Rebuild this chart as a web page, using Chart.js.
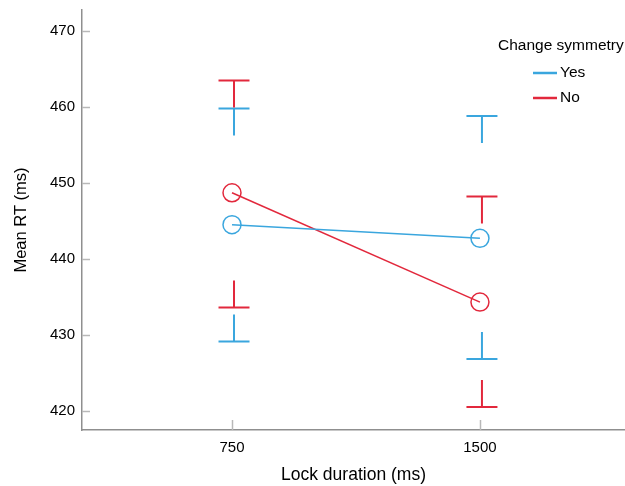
<!DOCTYPE html>
<html>
<head>
<meta charset="utf-8">
<script src="https://cdn.jsdelivr.net/npm/chart.js@4/dist/chart.umd.min.js"></script>
<style>
html,body{margin:0;padding:0;background:#fff;}
#wrap{width:625px;height:486px;}
</style>
</head>
<body>
<div id="wrap"><canvas id="c" width="625" height="486"></canvas></div>
<script>
const categories = ['750', '1500'];
const seriesNames = ['Yes', 'No'];
const yesMean = [444.5, 442.7];
const yesUpper = [459.8, 458.8];
const yesLower = [429.1, 426.8];
const noMean = [448.7, 434.3];
const noUpper = [463.5, 448.2];
const noLower = [433.6, 420.5];
const yTicks = [420, 430, 440, 450, 460, 470];

const BLUE = '#3aa6de';
const RED = '#e2283c';
const FONT = "'Liberation Sans', Arial, sans-serif";

function pts(arr) { return arr.map((v, i) => ({x: i + 1, y: v})); }

const errorBars = [
  {color: BLUE, upper: yesUpper, lower: yesLower},
  {color: RED, upper: noUpper, lower: noLower}
];

function zeroPad(s) { s.paddingTop = 0; s.paddingBottom = 0; s.paddingLeft = 0; s.paddingRight = 0; }

const extrasPlugin = {
  id: 'extras',
  beforeDatasetsDraw(chart) {
    const ctx = chart.ctx;
    const xs = chart.scales.x, ys = chart.scales.y;
    ctx.save();
    ctx.strokeStyle = '#b8b8b8';
    ctx.lineWidth = 1.5;
    yTicks.forEach(v => {
      const y = Math.round(ys.getPixelForValue(v)) + 0.5;
      ctx.beginPath(); ctx.moveTo(xs.left, y); ctx.lineTo(xs.left + 8, y); ctx.stroke();
    });
    categories.forEach((c, i) => {
      const x = Math.round(xs.getPixelForValue(i + 1)) + 0.5;
      ctx.beginPath(); ctx.moveTo(x, ys.bottom); ctx.lineTo(x, ys.bottom - 10); ctx.stroke();
    });
    ctx.restore();
  },
  afterDatasetsDraw(chart) {
    const ctx = chart.ctx;
    const xs = chart.scales.x, ys = chart.scales.y;
    ctx.save();
    ctx.lineWidth = 2;
    errorBars.forEach(eb => {
      ctx.strokeStyle = eb.color;
      categories.forEach((c, i) => {
        const x = xs.getPixelForValue(i + 1) + 2;
        const yu = ys.getPixelForValue(eb.upper[i]);
        const yl = ys.getPixelForValue(eb.lower[i]);
        ctx.beginPath();
        ctx.moveTo(x - 15.5, yu); ctx.lineTo(x + 15.5, yu);
        ctx.moveTo(x, yu); ctx.lineTo(x, yu + 27);
        ctx.moveTo(x - 15.5, yl); ctx.lineTo(x + 15.5, yl);
        ctx.moveTo(x, yl); ctx.lineTo(x, yl - 27);
        ctx.stroke();
      });
    });
    // legend
    ctx.fillStyle = '#000';
    ctx.font = '15.5px ' + FONT;
    ctx.textBaseline = 'middle';
    ctx.textAlign = 'left';
    ctx.fillText('Change symmetry', 498, 46);
    const ly = [73, 98];
    chart.data.datasets.forEach((ds, k) => {
      ctx.strokeStyle = ds.borderColor;
      ctx.lineWidth = 2.5;
      ctx.beginPath(); ctx.moveTo(533, ly[k]); ctx.lineTo(557, ly[k]); ctx.stroke();
      ctx.fillText(ds.label, 560, ly[k]);
    });
    ctx.restore();
  }
};

new Chart(document.getElementById('c'), {
  type: 'line',
  data: {
    datasets: [
      {label: seriesNames[0], data: pts(yesMean), borderColor: BLUE, borderWidth: 1.5,
       pointRadius: 9, pointBorderWidth: 1.5, pointBackgroundColor: 'rgba(0,0,0,0)', pointBorderColor: BLUE, pointHoverRadius: 9},
      {label: seriesNames[1], data: pts(noMean), borderColor: RED, borderWidth: 1.5,
       pointRadius: 9, pointBorderWidth: 1.5, pointBackgroundColor: 'rgba(0,0,0,0)', pointBorderColor: RED, pointHoverRadius: 9}
    ]
  },
  options: {
    responsive: false,
    animation: false,
    events: [],
    layout: {autoPadding: false, padding: {top: 10, right: 0, left: 0, bottom: 0}},
    plugins: {legend: {display: false}, tooltip: {enabled: false}},
    scales: {
      x: {
        type: 'linear', min: 0.395, max: 2.585,
        afterBuildTicks: s => { s.ticks = categories.map((c, i) => ({value: i + 1})); },
        afterFit: s => { s.height = 56; zeroPad(s); },
        grid: {display: true, drawOnChartArea: false, drawTicks: false},
        border: {display: true, color: '#8f8f8f', width: 1.5},
        ticks: {padding: 9, color: '#000', font: {family: FONT, size: 15},
                maxRotation: 0, autoSkip: false,
                callback: (v) => categories[Math.round(v) - 1]},
        title: {display: true, text: 'Lock duration (ms)', color: '#000',
                font: {family: FONT, size: 17.5}, padding: {top: 0, bottom: 0}}
      },
      y: {
        type: 'linear', min: 417.46, max: 472.77,
        afterBuildTicks: s => { s.ticks = yTicks.map(v => ({value: v})); },
        afterFit: s => { s.width = 82; zeroPad(s); },
        grid: {display: true, drawOnChartArea: false, drawTicks: false},
        border: {display: true, color: '#8f8f8f', width: 1.5},
        ticks: {padding: 7, color: '#000', font: {family: FONT, size: 15}},
        title: {display: true, text: 'Mean RT (ms)', color: '#000',
                font: {family: FONT, size: 16.5}, padding: {top: 12, bottom: 0}}
      }
    }
  },
  plugins: [extrasPlugin]
});
</script>
</body>
</html>
